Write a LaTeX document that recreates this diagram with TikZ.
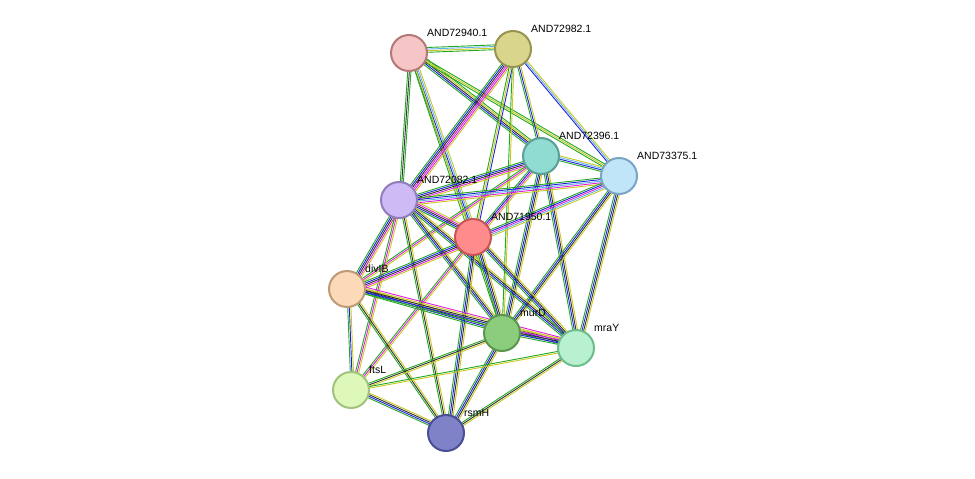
\documentclass[tikz,border=0pt]{standalone}
\usepackage{fontspec}
\setmainfont{Liberation Sans}
\usetikzlibrary{calc}
\definecolor{eg}{HTML}{22A822}
\definecolor{eb}{HTML}{2020E0}
\definecolor{ek}{HTML}{303030}
\definecolor{ey}{HTML}{C8C820}
\definecolor{em}{HTML}{E020E0}
\definecolor{ec}{HTML}{60B0F0}
\tikzset{
 prot/.style={circle,draw,line width=2pt,minimum size=36pt,inner sep=0pt},
 lab/.style={anchor=base west,font=\fontsize{10.5pt}{11pt}\selectfont,inner sep=0pt},
 ed/.style={line width=0.9pt}
}
\newcommand{\bund}[3]{%
 \foreach \c [count=\i] in {#3}{%
  \pgfmathsetmacro{\o}{(\i-1)*1.6}%
  \draw[ed,\c] ($(#1)!\o pt!90:(#2)$) -- ($(#2)!\o pt!-90:(#1)$);}}
\begin{document}
\begin{tikzpicture}[x=1pt,y=-1pt]
\useasboundingbox (0,0) rectangle (975,479);
\coordinate (A) at (409,53);
\coordinate (B) at (513,49);
\coordinate (C) at (541,156);
\coordinate (D) at (619,176);
\coordinate (E) at (399,200);
\coordinate (F) at (473,237);
\coordinate (G) at (347,289);
\coordinate (H) at (502,333);
\coordinate (I) at (576,348);
\coordinate (J) at (351,390);
\coordinate (K) at (446,433);
\bund{A}{B}{eg,ey,ec,eg}
\bund{A}{C}{eg,eb,ek,ey,eg}
\bund{A}{D}{eg,ey,eg}
\bund{A}{E}{eg,ek,eg}
\bund{A}{F}{eg,eb,ec,ey}
\bund{A}{H}{eg,ey}
\bund{B}{C}{eg,eb,ey}
\bund{B}{D}{eb,ec,ey}
\bund{B}{E}{eg,eb,ek,em,em,ey}
\bund{B}{F}{eg,ey,eb}
\bund{B}{H}{eg,ey}
\bund{C}{D}{eg,eb,ec,ey}
\bund{C}{E}{eg,eb,ek,em,ey}
\bund{C}{F}{eg,eb,em,ey}
\bund{C}{H}{eg,eb,ek,ey}
\bund{C}{I}{eg,eb,ek,ey}
\bund{C}{G}{eg,em,ey}
\bund{D}{E}{eg,eb,ec,em,ey}
\bund{D}{F}{eg,eb,em,ec,ey}
\bund{D}{H}{eg,eb,ek,ey}
\bund{D}{I}{eg,eb,ek,ey}
\bund{E}{F}{eg,eb,ek,em,ey}
\bund{E}{G}{eg,eb,ek,em,ey}
\bund{E}{H}{eg,eb,ek,ey}
\bund{E}{I}{eg,eb,ek,ey}
\bund{E}{J}{eg,em,ey}
\bund{E}{K}{eg,ek,ey}
\bund{F}{G}{eg,eb,ek,em,ey}
\bund{F}{H}{eg,eb,ek,ey}
\bund{F}{I}{eg,eb,ek,ey}
\bund{F}{J}{eg,em,ey}
\bund{F}{K}{eg,eb,ek,ey}
\bund{G}{H}{eg,eb,ek,ey}
\bund{G}{I}{eg,eb,ek,ey,em}
\bund{G}{J}{eg,eb,ey}
\bund{G}{K}{eg,ek,ey}
\bund{H}{I}{eg,eb,ek,em,ey}
\bund{H}{J}{eg,ek,ey}
\bund{H}{K}{eg,eb,ek,ey}
\bund{I}{J}{eg,ey}
\bund{I}{K}{eg,ek,ey}
\bund{J}{K}{eg,eb,ek,ey}
\node[prot,fill={rgb,255:red,246;green,198;blue,198},draw={rgb,255:red,180;green,120;blue,120}] (nA) at (A) {};
\node[prot,fill={rgb,255:red,217;green,214;blue,140},draw={rgb,255:red,150;green,148;blue,80}] (nB) at (B) {};
\node[prot,fill={rgb,255:red,144;green,220;blue,210},draw={rgb,255:red,90;green,160;blue,150}] (nC) at (C) {};
\node[prot,fill={rgb,255:red,192;green,228;blue,248},draw={rgb,255:red,120;green,165;blue,195}] (nD) at (D) {};
\node[prot,fill={rgb,255:red,206;green,186;blue,244},draw={rgb,255:red,145;green,125;blue,190}] (nE) at (E) {};
\node[prot,fill={rgb,255:red,255;green,140;blue,140},draw={rgb,255:red,200;green,85;blue,85}] (nF) at (F) {};
\node[prot,fill={rgb,255:red,252;green,218;blue,184},draw={rgb,255:red,190;green,155;blue,120}] (nG) at (G) {};
\node[prot,fill={rgb,255:red,140;green,205;blue,125},draw={rgb,255:red,90;green,150;blue,80}] (nH) at (H) {};
\node[prot,fill={rgb,255:red,184;green,240;blue,208},draw={rgb,255:red,110;green,190;blue,140}] (nI) at (I) {};
\node[prot,fill={rgb,255:red,222;green,248;blue,186},draw={rgb,255:red,160;green,195;blue,125}] (nJ) at (J) {};
\node[prot,fill={rgb,255:red,128;green,130;blue,200},draw={rgb,255:red,75;green,78;blue,150}] (nK) at (K) {};
\node[lab] (lA) at (427,36) {AND72940.1};
\node[lab] (lB) at (531,32) {AND72982.1};
\node[lab] (lC) at (559,139) {AND72396.1};
\node[lab] (lD) at (637,159) {AND73375.1};
\node[lab] (lE) at (417,183) {AND72082.1};
\node[lab] (lF) at (491,220) {AND71950.1};
\node[lab] (lG) at (365,272) {divIB};
\node[lab] (lH) at (520,316) {murD};
\node[lab] (lI) at (594,331) {mraY};
\node[lab] (lJ) at (369,373) {ftsL};
\node[lab] (lK) at (464,416) {rsmH};
\end{tikzpicture}
\end{document}
